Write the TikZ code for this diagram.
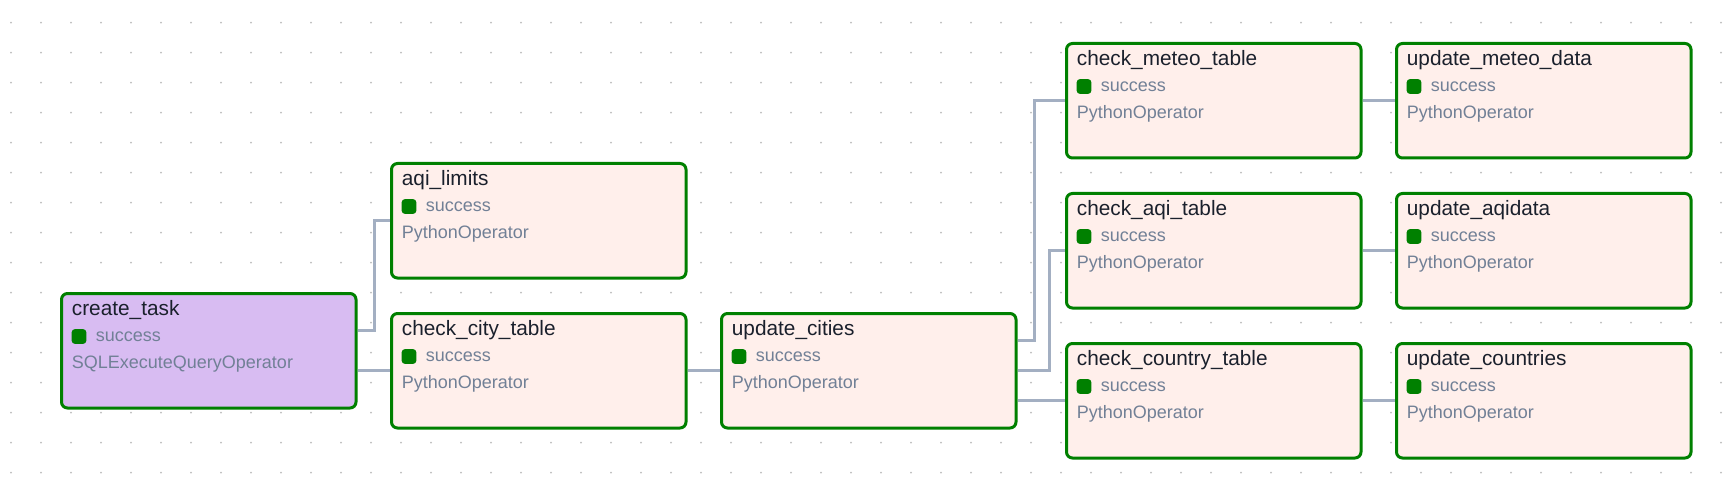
\documentclass[tikz,border=0pt]{standalone}
\usepackage{fontspec}
\setmainfont{Liberation Sans}
\usetikzlibrary{calc}
\definecolor{okgreen}{HTML}{008000}
\definecolor{pyfill}{HTML}{FFEFEB}
\definecolor{sqlfill}{HTML}{D8BCF2}
\definecolor{edgegray}{HTML}{A3AFC2}
\definecolor{dotgray}{HTML}{BDBDBD}
\definecolor{titlecol}{HTML}{1A202C}
\definecolor{subcol}{HTML}{718096}
\tikzset{
  taskbox/.style={draw=okgreen, line width=3pt, rounded corners=6pt,
    minimum width=294.5pt, minimum height=114.5pt, inner sep=0pt},
  tasktitle/.style={anchor=base west, inner sep=0pt,
    font=\fontsize{20.8}{24}\selectfont, text=titlecol},
  tasksub/.style={anchor=base west, inner sep=0pt,
    font=\fontsize{18}{21}\selectfont, text=subcol},
  statebox/.style={fill=okgreen, rounded corners=3pt, minimum size=14.6pt,
    inner sep=0pt, anchor=north west},
  edge/.style={draw=edgegray, line width=3pt}
}
\newcommand{\dagtask}[6]{%
  \node[taskbox, fill=#6] (#1) at (#2+148.75, #3+58.75) {};
  \node[tasktitle] (#1-title) at ($(#1.north west)+(11.7,23.7)$) {#4};
  \node[statebox] (#1-state) at ($(#1.north west)+(11.5,37)$) {};
  \node[tasksub] (#1-status) at ($(#1.north west)+(35.7,49.9)$) {success};
  \node[tasksub] (#1-op) at ($(#1.north west)+(11.7,76.3)$) {#5};
}
\begin{document}
\begin{tikzpicture}[x=1pt, y=-1pt]
  \fill[white] (0,0) rectangle (1735,489);
  \useasboundingbox (0,0) rectangle (1735,489);
  \foreach \i in {0,...,57} {
    \foreach \j in {0,...,15} {
      \fill[dotgray] (11+30*\i, 22.7+30*\j) circle (1pt);
    }
  }
  \dagtask{ct}{60}{292}{create\_task}{SQLExecuteQueryOperator}{sqlfill}
  \dagtask{al}{390}{162}{aqi\_limits}{PythonOperator}{pyfill}
  \dagtask{cct}{390}{312}{check\_city\_table}{PythonOperator}{pyfill}
  \dagtask{uc}{720}{312}{update\_cities}{PythonOperator}{pyfill}
  \dagtask{cmt}{1065}{42}{check\_meteo\_table}{PythonOperator}{pyfill}
  \dagtask{cat}{1065}{192}{check\_aqi\_table}{PythonOperator}{pyfill}
  \dagtask{cot}{1065}{342}{check\_country\_table}{PythonOperator}{pyfill}
  \dagtask{umd}{1395}{42}{update\_meteo\_data}{PythonOperator}{pyfill}
  \dagtask{uad}{1395}{192}{update\_aqidata}{PythonOperator}{pyfill}
  \dagtask{uco}{1395}{342}{update\_countries}{PythonOperator}{pyfill}
  % edges
  \draw[edge] ([yshift=20pt]ct.east) -- ++(16.5,0) |- (al.west);
  \draw[edge] ([yshift=-20pt]ct.east) -- (cct.west);
  \draw[edge] (cct.east) -- (uc.west);
  \draw[edge] ([yshift=30pt]uc.east) -- ++(16.5,0) |- (cmt.west);
  \draw[edge] (uc.east) -- ++(31.5,0) |- (cat.west);
  \draw[edge] ([yshift=-30pt]uc.east) -- (cot.west);
  \draw[edge] (cmt.east) -- (umd.west);
  \draw[edge] (cat.east) -- (uad.west);
  \draw[edge] (cot.east) -- (uco.west);
\end{tikzpicture}
\end{document}
